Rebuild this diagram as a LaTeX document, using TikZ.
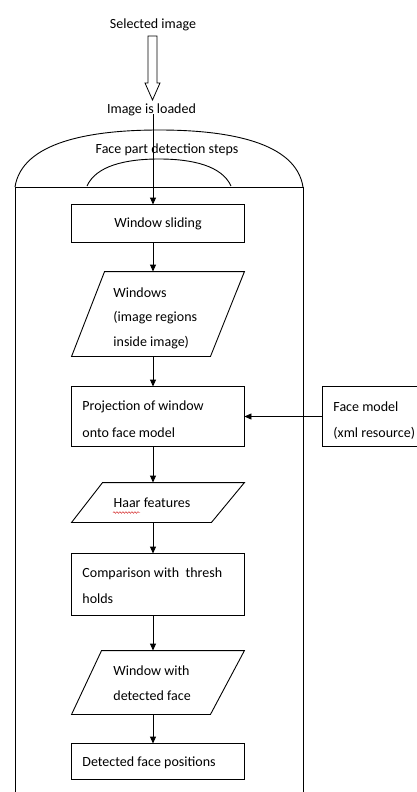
\documentclass[tikz,border=0pt]{standalone}
\usepackage{fontspec}
\setmainfont{Carlito}
\usetikzlibrary{arrows.meta,decorations.pathmorphing}
\begin{document}
\begin{tikzpicture}[x=1pt,y=-1pt,
  line width=0.9pt,
  lbl/.style={inner sep=0pt,font=\fontsize{14}{25}\selectfont},
  lbll/.style={lbl,anchor=west,align=left},
  frame/.style={draw=none,inner sep=0pt},
  flow/.style={-{Triangle[length=7pt,width=6pt]}},
]
\useasboundingbox (0,0) rectangle (417,792);
\fill[white] (0,0) rectangle (417,792);

% top labels
\node[lbl] (sel) at (153,25) {Selected image};
\draw[line width=0.8pt] (148,36) -- (157,36) -- (157,83) -- (160,83) -- (152.5,100) -- (145,83) -- (148,83) -- cycle;
\node[lbl] (loaded) at (151.5,110) {Image is loaded};

% outer frame with domes
\draw (15,792) -- (15,187) -- (303,187) -- (303,792);
\draw (15,187) .. controls (22,142) and (90,130) .. (159,130) .. controls (228,130) and (296,142) .. (303,187);
\draw (87,186) .. controls (96,166) and (125,159) .. (159,159) .. controls (193,159) and (222,166) .. (231,186);
\node[lbl] (fpd) at (167,150) {Face part detection steps};

\coordinate (xl) at (153,0);

% window sliding
\node[frame,minimum width=172pt,minimum height=37pt] (ws) at (158,223.5) {};
\draw (ws.north west) rectangle (ws.south east);
\node[lbl] at (ws.center) {Window sliding};

% windows parallelogram
\node[frame,minimum width=172pt,minimum height=84pt] (win) at (158,314) {};
\draw ([xshift=33pt]win.north west) -- (win.north east) -- ([xshift=-34pt]win.south east) -- (win.south west) -- cycle;
\node[lbll] at (113,293) {Windows};
\node[lbll] at (113,318) {(image regions};
\node[lbll] at (113,343) {inside image)};

% projection
\node[frame,minimum width=172pt,minimum height=59pt] (proj) at (158,416.5) {};
\draw (proj.north west) rectangle (proj.south east);
\node[lbll] at (82,407) {Projection of window};
\node[lbll] at (82,433) {onto face model};

% face model
\node[frame,minimum width=100pt,minimum height=59pt,anchor=west] (fm) at (322,416.5) {};
\draw (fm.north east) -- (fm.north west) -- (fm.south west) -- (fm.south east);
\node[lbll] at (333,407) {Face model};
\node[lbll] at (333,433) {(xml resource)};

% haar
\node[frame,minimum width=172pt,minimum height=39pt] (haar) at (158,502.5) {};
\draw ([xshift=31pt]haar.north west) -- (haar.north east) -- ([xshift=-33pt]haar.south east) -- (haar.south west) -- cycle;
\node[lbl] (haart) at (152,503) {Haar features};
\draw[red!80!black,line width=0.4pt,decorate,decoration={snake,amplitude=0.8pt,segment length=3pt}] (113,512.5) -- (140,512.5);

% comparison
\node[frame,minimum width=172pt,minimum height=61pt] (cmp) at (158,584.5) {};
\draw (cmp.north west) rectangle (cmp.south east);
\node[lbll] at (82,574) {Comparison with\ \ thresh};
\node[lbll] at (82,599) {holds};

% window with detected face
\node[frame,minimum width=172pt,minimum height=63pt] (wdf) at (158,682.5) {};
\draw ([xshift=30pt]wdf.north west) -- (wdf.north east) -- ([xshift=-34pt]wdf.south east) -- (wdf.south west) -- cycle;
\node[lbll] at (113,671) {Window with};
\node[lbll] at (113,696) {detected face};

% detected face positions
\node[frame,minimum width=172pt,minimum height=35pt] (dfp) at (158,761.5) {};
\draw (dfp.north west) rectangle (dfp.south east);
\node[lbll] at (82,763) {Detected face positions};

% connectors
\coordinate (start) at (153,114);
\draw[flow] (start) -- (ws.north -| xl);
\draw[flow] (ws.south -| xl) -- (win.north -| xl);
\draw[flow] (win.south -| xl) -- (proj.north -| xl);
\draw[flow] (fm.west) -- (proj.east);
\draw[flow] (proj.south -| xl) -- (haar.north -| xl);
\draw[flow] (haar.south -| xl) -- (cmp.north -| xl);
\draw[flow] (cmp.south -| xl) -- (wdf.north -| xl);
\draw[flow] (wdf.south -| xl) -- (dfp.north -| xl);
\end{tikzpicture}
\end{document}
